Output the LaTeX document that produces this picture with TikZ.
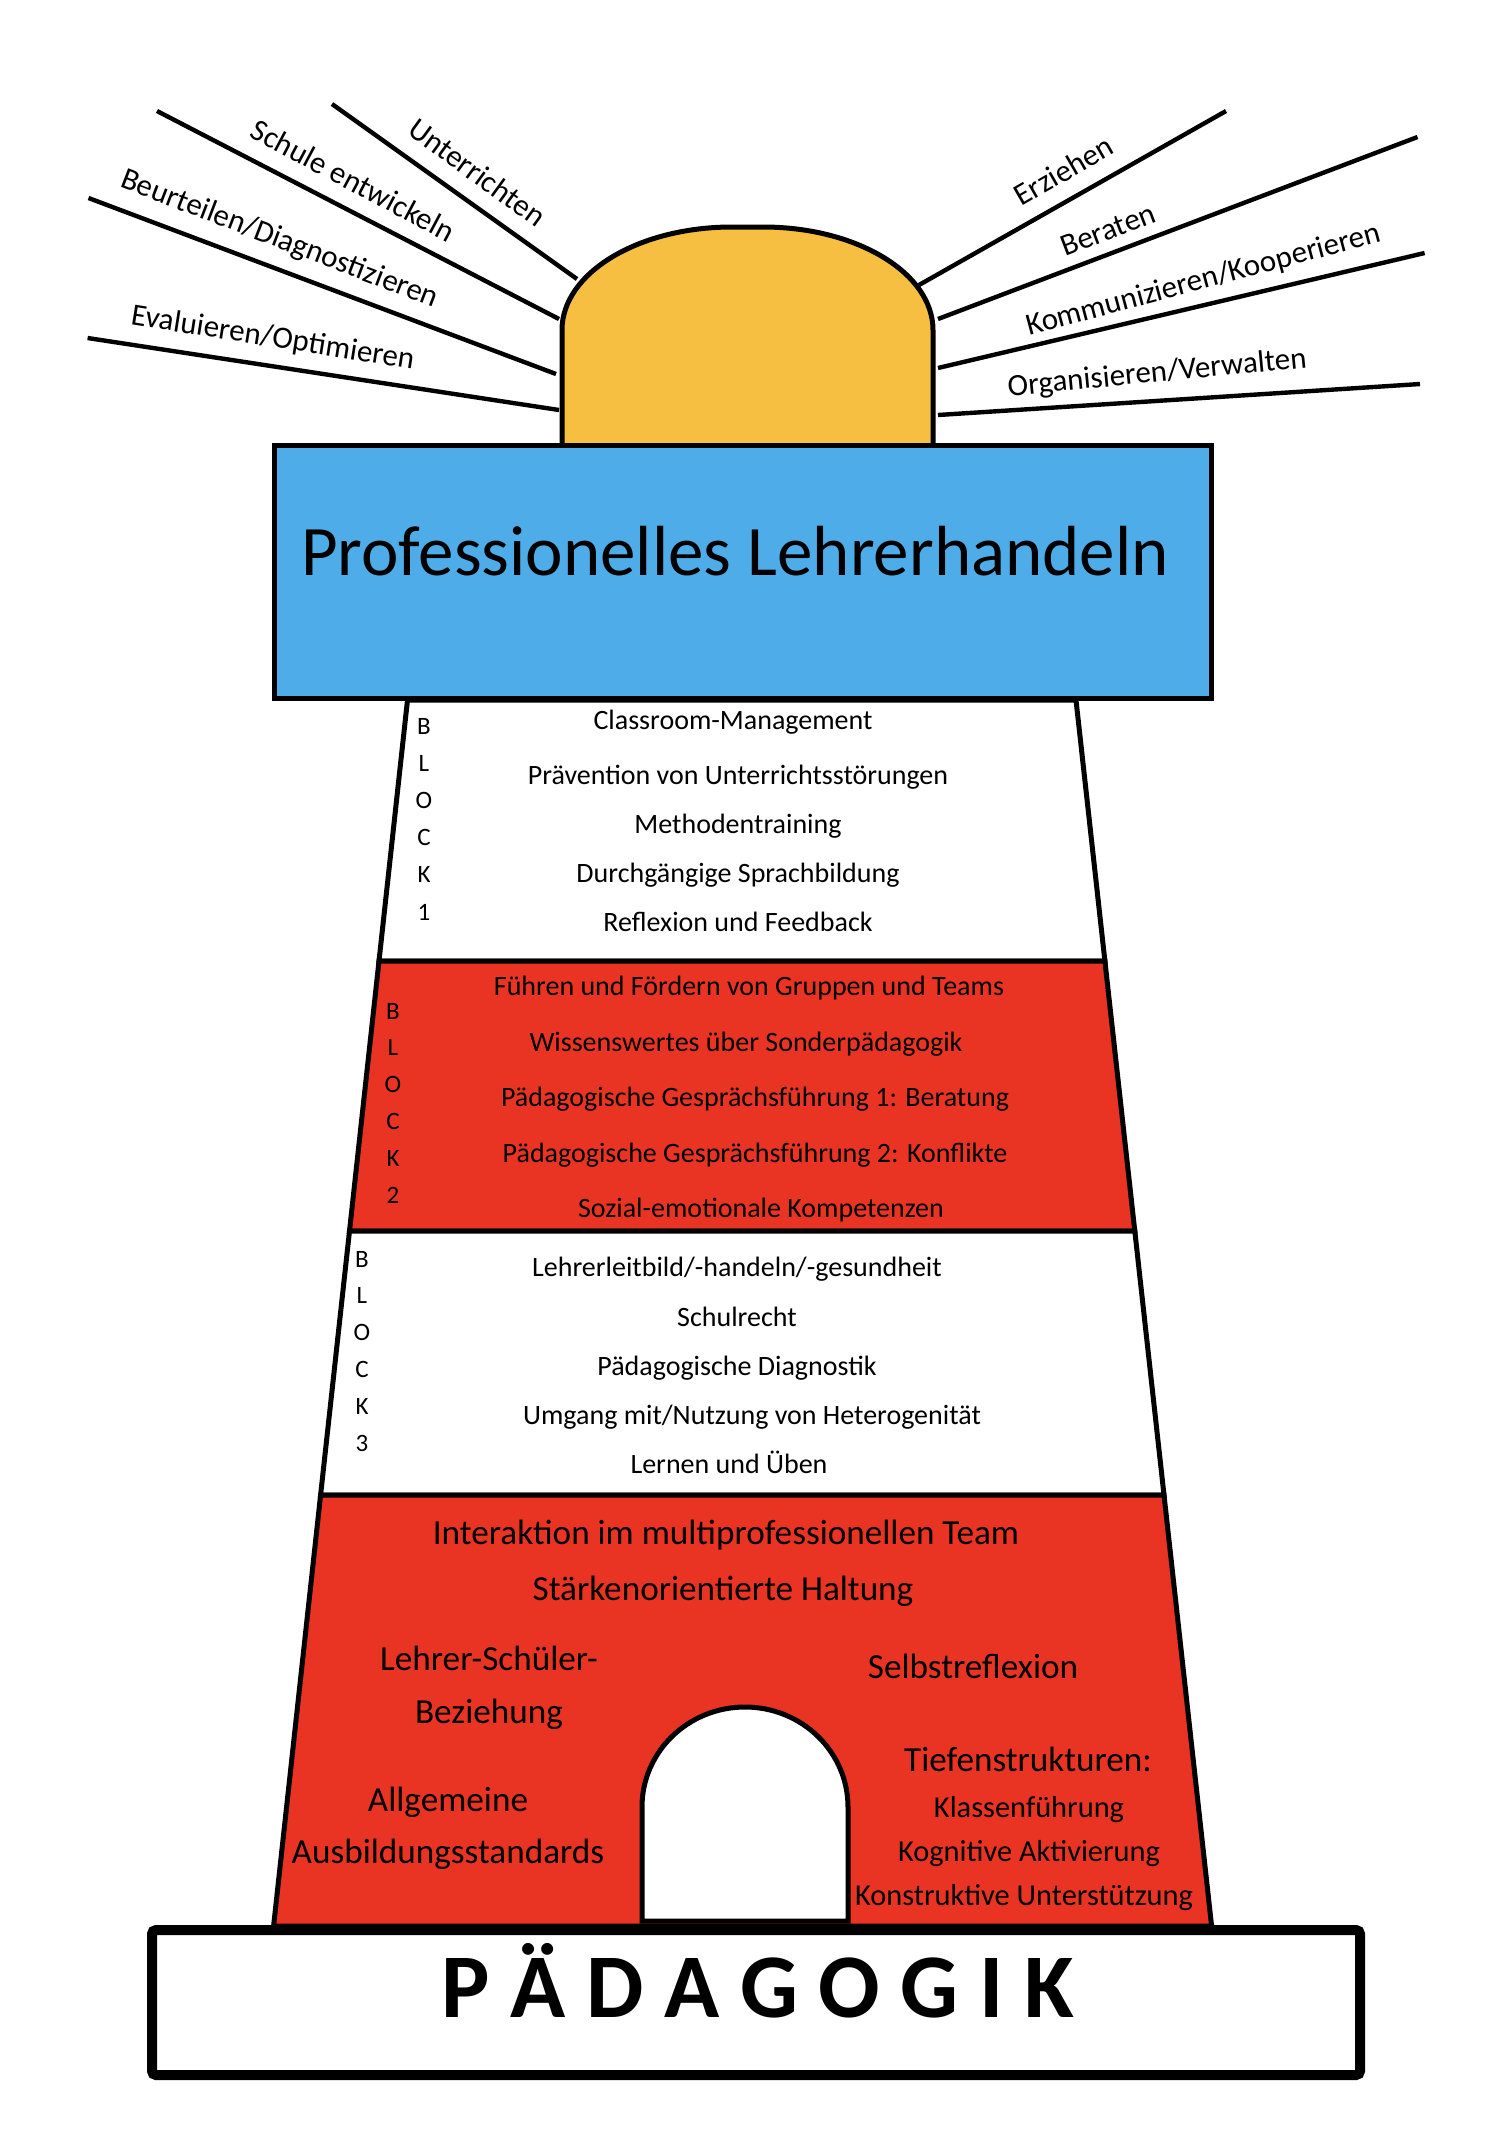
\documentclass[tikz,border=0pt]{standalone}
\usepackage{fontspec}
\setmainfont{Carlito}
\definecolor{towerred}{RGB}{233,52,36}
\definecolor{lampblue}{RGB}{78,173,232}
\definecolor{lampyellow}{RGB}{246,191,65}
\begin{document}
\begin{tikzpicture}[x=0.5pt,y=-0.5pt,
  ray/.style={line width=2.2pt},
  outl/.style={draw=black,line width=2.5pt,line join=miter},
  lbl/.style={inner sep=0pt,text depth=0pt,anchor=center},
  raylbl/.style={lbl,font=\fontsize{15.5}{18}\selectfont,text height=9.9pt},
  blk/.style={lbl,font=\fontsize{14}{17}\selectfont,text height=9pt},
  bltr/.style={lbl,font=\fontsize{12.5}{15}\selectfont,text height=8pt},
  bigtxt/.style={lbl,font=\fontsize{17.6}{21}\selectfont,text height=11.3pt},
  midtxt/.style={lbl,font=\fontsize{15.2}{18}\selectfont,text height=9.7pt},
]
\useasboundingbox (0,0) rectangle (1496,2144);
\fill[white] (0,0) rectangle (1496,2144);

% rays
\coordinate (u1) at (332,104); \coordinate (u2) at (577,279);
\coordinate (s1) at (157,111); \coordinate (s2) at (559,319);
\coordinate (b1) at (88.5,198); \coordinate (b2) at (556,374);
\coordinate (e1) at (87.6,338); \coordinate (e2) at (559,410);
\coordinate (z1) at (919,285); \coordinate (z2) at (1226,111);
\coordinate (r1) at (938,319); \coordinate (r2) at (1417.5,137);
\coordinate (k1) at (938,368); \coordinate (k2) at (1424.6,253);
\coordinate (o1) at (938,415); \coordinate (o2) at (1420,384);
\foreach \a in {u,s,b,e,z,r,k,o} \draw[ray] (\a1) -- (\a2);

\node[raylbl,rotate=-36] (tu) at (477,173) {Unterrichten};
\node[raylbl,rotate=-28] (ts) at (353,181) {Schule entwickeln};
\node[raylbl,rotate=-21] (tb) at (280,238) {Beurteilen/Diagnostizieren};
\node[raylbl,rotate=-9] (te) at (273,337) {Evaluieren/Optimieren};
\node[raylbl,rotate=30] (tz) at (1064,171) {Erziehen};
\node[raylbl,rotate=21] (tr) at (1108,230) {Beraten};
\node[raylbl,rotate=15] (tk) at (1203,279) {Kommunizieren/Kooperieren};
\node[raylbl,rotate=5.5] (to) at (1157,372) {Organisieren/Verwalten};

% dome
\draw[outl,fill=lampyellow] (562,450) -- (562,330)
  .. controls (562,273.1) and (638.1,227) .. (732,227) -- (763,227)
  .. controls (856.9,227) and (933,273.1) .. (933,330) -- (933,450);

% tower blocks
\draw[outl,fill=white] (407.5,700) -- (1076,700) -- (1104.9,961) -- (379,961) -- cycle;
\draw[outl,fill=towerred] (379,961) -- (1104.9,961) -- (1134.8,1231) -- (349.5,1231) -- cycle;
\draw[outl,fill=white] (349.5,1231) -- (1134.8,1231) -- (1164,1495) -- (320.6,1495) -- cycle;
\draw[outl,fill=towerred] (320.6,1495) -- (1164,1495) -- (1211.6,1926) -- (273.6,1926) -- cycle;

% door
\draw[outl,fill=white] (642,1921) -- (642,1807)
  .. controls (642,1751.8) and (688.1,1707) .. (745,1707)
  .. controls (801.9,1707) and (848,1751.8) .. (848,1807) -- (848,1921) -- cycle;

% lamp room
\draw[outl,fill=lampblue] (274,445) rectangle (1211,698);
\node[lbl,font=\fontsize{35.5}{40}\selectfont,text height=22.7pt] (title) at (735,553) {Professionelles Lehrerhandeln};

% block 1
\foreach \ch [count=\i] in {B,L,O,C,K,1}
  \node[bltr] (bA\i) at (424,726+37.2*\i-37.2) {\ch};
\node[blk] (a1) at (733,720) {Classroom-Management};
\node[blk] (a2) at (738,775) {Prävention von Unterrichtsstörungen};
\node[blk] (a3) at (738,824) {Methodentraining};
\node[blk] (a4) at (738,873) {Durchgängige Sprachbildung};
\node[blk] (a5) at (738,922) {Reflexion und Feedback};

% block 2
\foreach \ch [count=\i] in {B,L,O,C,K,2}
  \node[bltr] (bB\i) at (393,1011+36.8*\i-36.8) {\ch};
\node[blk] (c1) at (749,986) {Führen und Fördern von Gruppen und Teams};
\node[blk] (c2) at (746,1042) {Wissenswertes über Sonderpädagogik};
\node[blk] (c3) at (755,1097) {Pädagogische Gesprächsführung 1: Beratung};
\node[blk] (c4) at (755,1153) {Pädagogische Gesprächsführung 2: Konflikte};
\node[blk] (c5) at (761,1208) {Sozial-emotionale Kompetenzen};

% block 3
\foreach \ch [count=\i] in {B,L,O,C,K,3}
  \node[bltr] (bC\i) at (362,1259+36.8*\i-36.8) {\ch};
\node[blk] (d1) at (737,1267) {Lehrerleitbild/-handeln/-gesundheit};
\node[blk] (d2) at (737,1317) {Schulrecht};
\node[blk] (d3) at (737,1366) {Pädagogische Diagnostik};
\node[blk] (d4) at (752,1415) {Umgang mit/Nutzung von Heterogenität};
\node[blk] (d5) at (729,1464) {Lernen und Üben};

% bottom section
\node[bigtxt] (f1) at (726,1533) {Interaktion im multiprofessionellen Team};
\node[bigtxt] (f2) at (723,1589) {Stärkenorientierte Haltung};
\node[bigtxt] (f3) at (489,1659) {Lehrer-Schüler-};
\node[bigtxt] (f4) at (489,1712) {Beziehung};
\node[bigtxt] (f5) at (973,1667) {Selbstreflexion};
\node[bigtxt] (f6) at (448,1800) {Allgemeine};
\node[bigtxt] (f7) at (448,1852) {Ausbildungsstandards};
\node[bigtxt] (f8) at (1028,1760) {Tiefenstrukturen:};
\node[midtxt] (f9) at (1029,1808) {Klassenführung};
\node[midtxt] (f10) at (1029,1852) {Kognitive Aktivierung};
\node[midtxt] (f11) at (1024,1896) {Konstruktive Unterstützung};

% base
\draw[line width=5pt,fill=white,rounded corners=2pt] (152,1930) rectangle (1360,2075);
\node[lbl,font=\fontsize{45.5}{50}\selectfont\bfseries,text height=29.1pt] (ped) at (758,1988) {P Ä D A G O G I K};
\end{tikzpicture}
\end{document}
